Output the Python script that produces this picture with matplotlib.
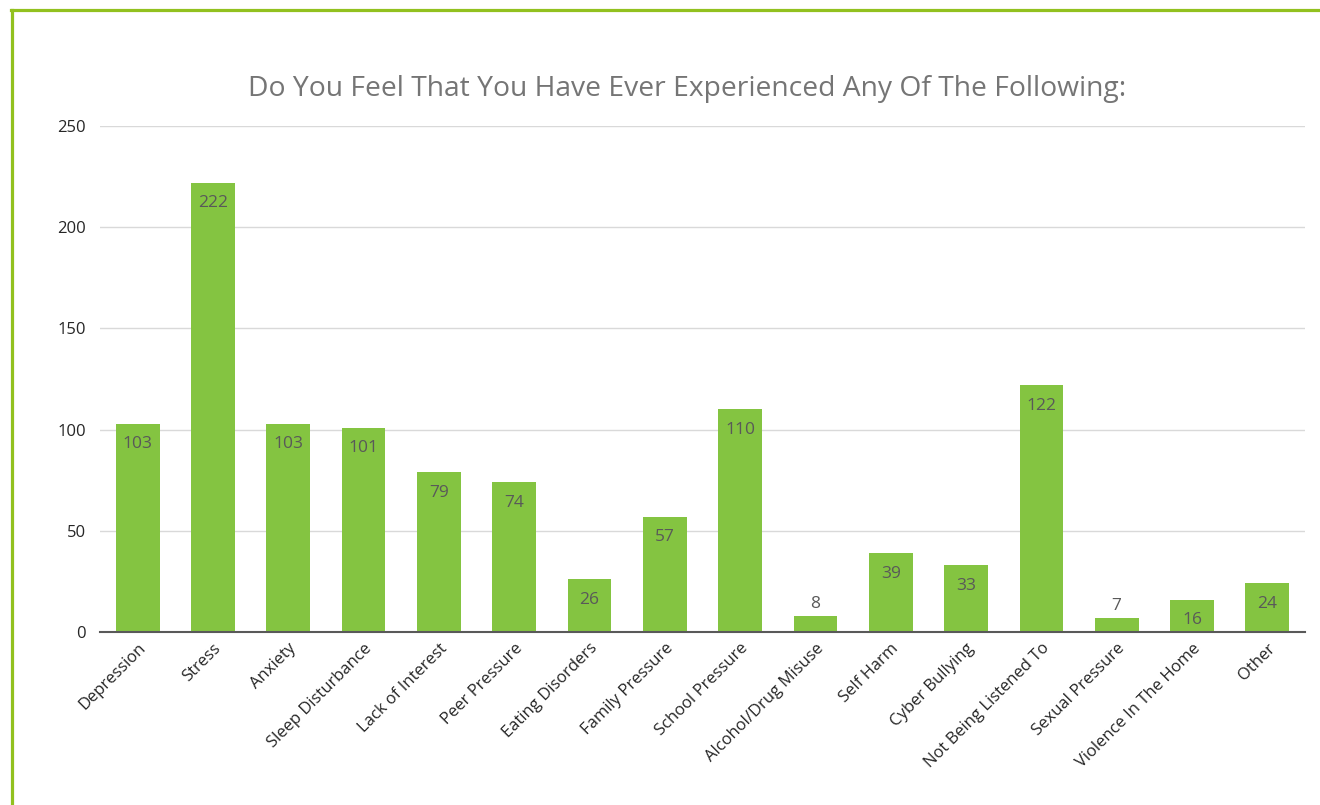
import matplotlib.pyplot as plt
import matplotlib.lines as mlines

plt.rcParams['font.family'] = ['Open Sans', 'DejaVu Sans']

categories = ["Depression", "Stress", "Anxiety", "Sleep Disturbance", "Lack of Interest",
              "Peer Pressure", "Eating Disorders", "Family Pressure", "School Pressure",
              "Alcohol/Drug Misuse", "Self Harm", "Cyber Bullying", "Not Being Listened To",
              "Sexual Pressure", "Violence In The Home", "Other"]
counts = [103, 222, 103, 101, 79, 74, 26, 57, 110, 8, 39, 33, 122, 7, 16, 24]
yticks = [0, 50, 100, 150, 200, 250]

bar_color = "#84c441"
label_color = "#595959"

fig = plt.figure(figsize=(13.2, 8.05), dpi=100)
ax = fig.add_axes([0.0758, 0.2149, 0.9128, 0.6286])

x = list(range(len(categories)))
bars = ax.bar(x, counts, width=0.58, color=bar_color, zorder=2)

for xi, v in zip(x, counts):
    if v < 15:
        ax.annotate(str(v), xy=(xi, v), xytext=(0, 3), textcoords="offset points",
                    ha="center", va="bottom", fontsize=12.5, color=label_color)
    else:
        ax.annotate(str(v), xy=(xi, v), xytext=(0, -9), textcoords="offset points",
                    ha="center", va="top", fontsize=12.5, color=label_color)

ax.set_xlim(-0.5, len(categories) - 0.5)
ax.set_ylim(0, 250)
ax.set_yticks(yticks)
ax.set_yticklabels([str(t) for t in yticks], fontsize=12, color="#262626")
ax.set_xticks(x)
ax.set_xticklabels(categories, rotation=45, ha="right", rotation_mode="anchor",
                   fontsize=12, color="#262626")
ax.tick_params(axis="both", length=0)
ax.tick_params(axis="y", pad=10)
ax.tick_params(axis="x", pad=6)

ax.grid(axis="y", color="#d9d9d9", linewidth=1, zorder=0)
for s in ["top", "right", "left"]:
    ax.spines[s].set_visible(False)
ax.spines["bottom"].set_color("#595959")
ax.spines["bottom"].set_linewidth(1.5)
ax.spines["bottom"].set_zorder(3)

fig.text(0.5205, 0.89, "Do You Feel That You Have Ever Experienced Any Of The Following:",
         ha="center", va="center", fontsize=20.3, color="#757575")

# green frame on the left and top edges
frame_color = "#92c11f"
fig.add_artist(mlines.Line2D([0.0092, 0.0092], [0, 0.9876], color=frame_color,
                             linewidth=2.3, transform=fig.transFigure))
fig.add_artist(mlines.Line2D([0.0083, 1.0], [0.9876, 0.9876], color=frame_color,
                             linewidth=2.3, transform=fig.transFigure))

fig.savefig("out.png", dpi=100)
